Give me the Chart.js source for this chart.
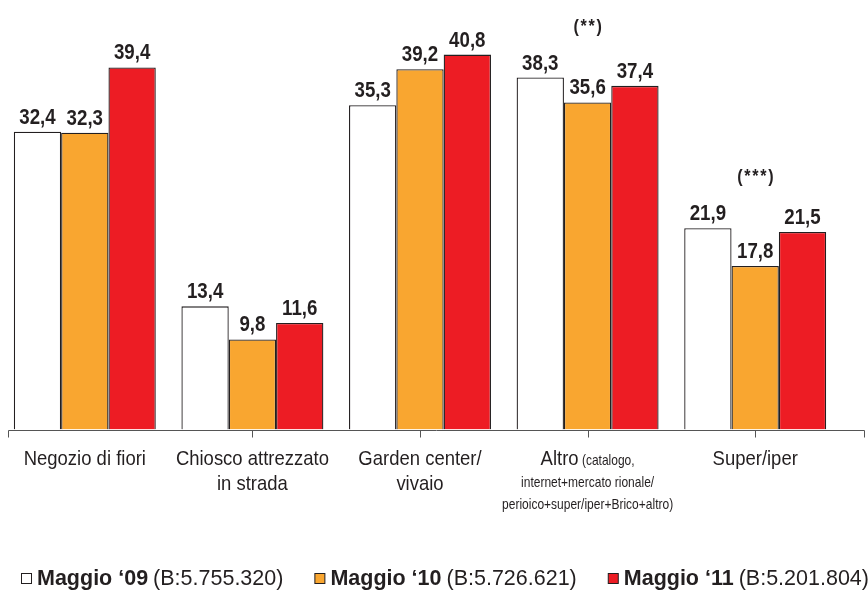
<!DOCTYPE html>
<html>
<head>
<meta charset="utf-8">
<script src="https://cdn.jsdelivr.net/npm/chart.js@4"></script>
<style>
  html, body { margin: 0; padding: 0; background: #fff; }
  #wrap { width: 868px; height: 591px; }
</style>
</head>
<body>
<div id="wrap"><canvas id="chart"></canvas></div>
<script>
// Values (percent, comma decimals in the labels)
const categories = ["Negozio di fiori", "Chiosco attrezzato in strada", "Garden center/vivaio", "Altro", "Super/iper"];
const maggio09 = [32.4, 13.4, 35.3, 38.3, 21.9];
const maggio10 = [32.3, 9.8, 39.2, 35.6, 17.8];
const maggio11 = [39.4, 11.6, 40.8, 37.4, 21.5];
const seriesNames = ["Maggio \u201809", "Maggio \u201810", "Maggio \u201811"];
const seriesBases = ["(B:5.755.320)", "(B:5.726.621)", "(B:5.201.804)"];
const groupNotes = [null, null, null, "(**)", "(***)"];

// Each line = [big text, small text]
const categoryLines = [
  [["Negozio di fiori", ""]],
  [["Chiosco attrezzato", ""], ["in strada", ""]],
  [["Garden center/", ""], ["vivaio", ""]],
  [["Altro", " (catalogo,"], ["", "internet+mercato rionale/"], ["", "perioico+super/iper+Brico+altro)"]],
  [["Super/iper", ""]]
];

const INK = "#231f20";
const COLORS = ["#ffffff", "#f9a630", "#ed1c24"];
const NARROW = '"Liberation Sans Narrow", "Liberation Sans", sans-serif';
const SANS = '"Liberation Sans", Arial, sans-serif';

// Condensed text: draw with a horizontal squeeze
function squeezed(ctx, text, x, y, font, sx, align) {
  ctx.save();
  ctx.font = font;
  ctx.textAlign = align || "center";
  ctx.textBaseline = "alphabetic";
  ctx.translate(x, y);
  ctx.scale(sx, 1);
  ctx.fillText(text, 0, 0);
  ctx.restore();
}
function squeezedWidth(ctx, text, font, sx) {
  ctx.save();
  ctx.font = font;
  const w = ctx.measureText(text).width * sx;
  ctx.restore();
  return w;
}

const fmt = v => v.toFixed(1).replace(".", ",");

const chartDecor = {
  id: "chartDecor",
  afterDatasetsDraw(chart) {
    const ctx = chart.ctx;
    const x = chart.scales.x, y = chart.scales.y;
    ctx.fillStyle = INK;

    // value labels above each bar
    const VALUE_FONT = "bold 22px " + NARROW;
    chart.data.datasets.forEach((ds, di) => {
      chart.getDatasetMeta(di).data.forEach((bar, i) => {
        squeezed(ctx, fmt(ds.data[i]), bar.x, bar.y - 8, VALUE_FONT, 0.85);
      });
    });

    // group notes (**) / (***)
    groupNotes.forEach((note, i) => {
      if (!note) return;
      const top = Math.min(...chart.data.datasets.map(ds => y.getPixelForValue(ds.data[i])));
      ctx.save();
      ctx.letterSpacing = "2px";
      squeezed(ctx, note, x.getPixelForValue(i) + 1, top - 46, "bold 19px " + SANS, 0.85);
      ctx.restore();
    });

    // x axis line with end ticks and ticks under groups 2-5
    const base = Math.round(y.getPixelForValue(0)) + 0.5;
    const AXIS_LEFT = 8.5, AXIS_RIGHT = 864.5;
    ctx.save();
    ctx.strokeStyle = "#555";
    ctx.lineWidth = 1;
    ctx.beginPath();
    ctx.moveTo(AXIS_LEFT, base); ctx.lineTo(AXIS_RIGHT, base);
    const tickXs = [AXIS_LEFT, AXIS_RIGHT];
    for (let i = 1; i < categories.length; i++) tickXs.push(Math.round(x.getPixelForValue(i)) + 0.5);
    tickXs.forEach(tx => { ctx.moveTo(tx, base); ctx.lineTo(tx, base + 7); });
    ctx.stroke();
    ctx.restore();

    // category labels (big + small text on one line)
    const BIG = "21px " + NARROW, SMALL = "15px " + NARROW;
    const BIG_SX = 0.88, SMALL_SX = 0.8;
    categoryLines.forEach((lines, i) => {
      const cx = x.getPixelForValue(i);
      let ly = base + 34;
      lines.forEach(([big, small], li) => {
        const wb = big ? squeezedWidth(ctx, big, BIG, BIG_SX) : 0;
        const ws = small ? squeezedWidth(ctx, small, SMALL, SMALL_SX) : 0;
        let sx = cx - (wb + ws) / 2;
        if (big) squeezed(ctx, big, sx, ly, BIG, BIG_SX, "left");
        if (small) squeezed(ctx, small, sx + wb, ly, SMALL, SMALL_SX, "left");
        ly += (lines[li + 1] && !lines[li + 1][0]) ? 22 : 25;
      });
    });

    // legend: box, bold name, regular base
    let lx = 21;
    const ly = 585;
    seriesNames.forEach((name, i) => {
      ctx.save();
      ctx.fillStyle = COLORS[i];
      ctx.fillRect(lx + 0.5, 573.5, 10, 10);
      ctx.strokeStyle = INK;
      ctx.lineWidth = 1;
      ctx.strokeRect(lx + 0.5, 573.5, 10, 10);
      ctx.restore();
      ctx.fillStyle = INK;
      ctx.font = "bold 21.5px " + SANS;
      ctx.textAlign = "left";
      ctx.textBaseline = "alphabetic";
      let tx = lx + 16;
      ctx.fillText(name, tx, ly);
      tx += ctx.measureText(name).width + 5;
      ctx.font = "21.5px " + SANS;
      ctx.fillText(seriesBases[i], tx, ly);
      tx += ctx.measureText(seriesBases[i]).width;
      lx = tx + 31;
    });
  }
};

const barStyle = {
  borderColor: INK,
  borderWidth: 1.3,
  borderSkipped: "bottom",
  barPercentage: 1.0,
  categoryPercentage: 0.847
};

new Chart(document.getElementById("chart"), {
  type: "bar",
  data: {
    labels: categories,
    datasets: [
      { label: seriesNames[0], data: maggio09, backgroundColor: COLORS[0], ...barStyle },
      { label: seriesNames[1], data: maggio10, backgroundColor: COLORS[1], ...barStyle },
      { label: seriesNames[2], data: maggio11, backgroundColor: COLORS[2], ...barStyle }
    ]
  },
  options: {
    responsive: true,
    maintainAspectRatio: false,
    animation: false,
    devicePixelRatio: 1,
    layout: { padding: { left: 1, right: 29, top: 16, bottom: 161.5 } },
    plugins: { legend: { display: false }, tooltip: { enabled: false } },
    scales: {
      x: { display: false, offset: true },
      y: { display: false, min: 0, max: 45 }
    }
  },
  plugins: [chartDecor]
});
</script>
</body>
</html>
